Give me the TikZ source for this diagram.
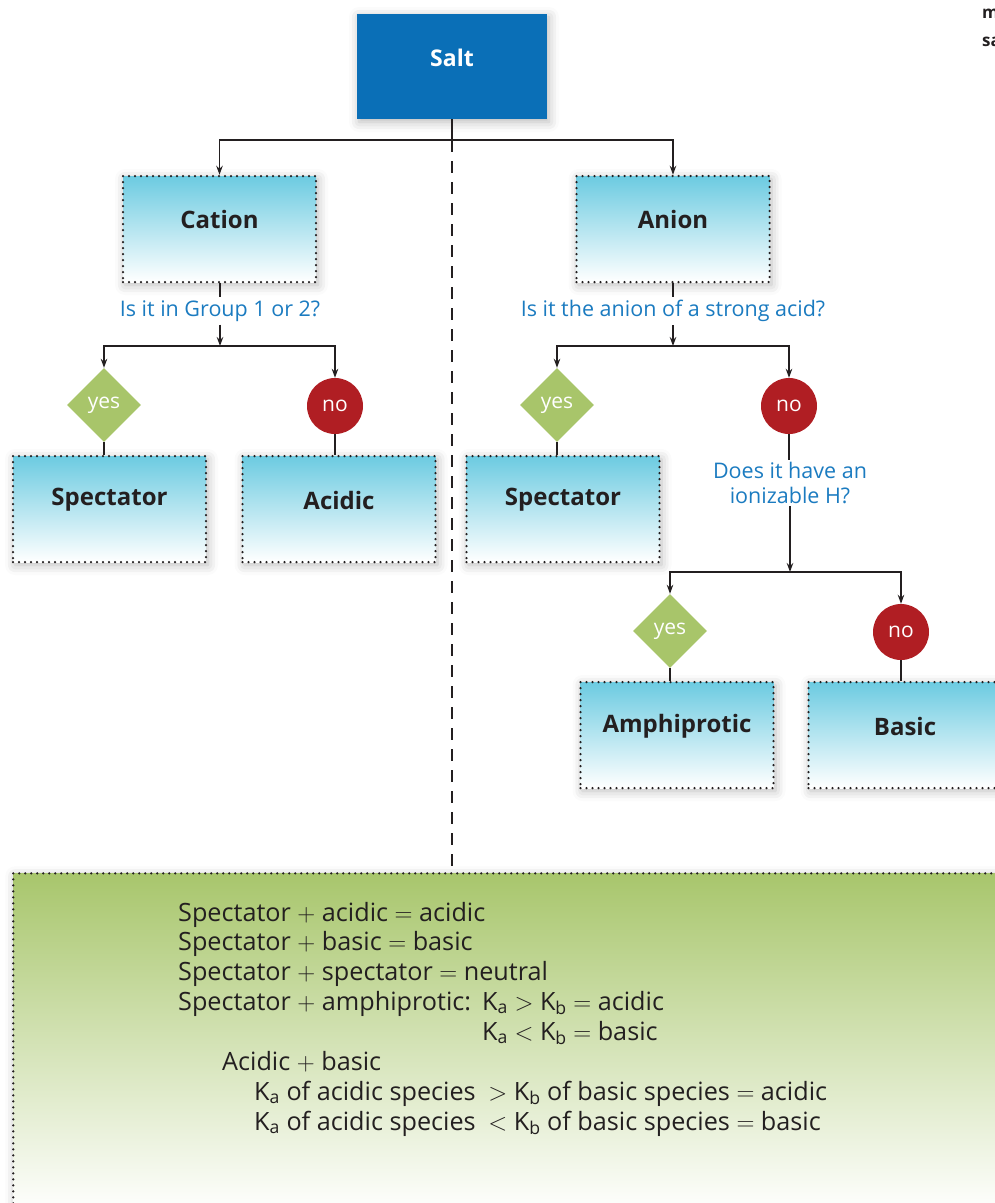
\documentclass[tikz,border=0pt]{standalone}
\usepackage{fontspec}
\setmainfont{Open Sans}
\usetikzlibrary{shapes.geometric,arrows.meta,shadows.blur}
\definecolor{saltblue}{HTML}{0A6FB7}
\definecolor{cyantop}{HTML}{6CCBE1}
\definecolor{greentop}{HTML}{A8C66C}
\definecolor{yesgreen}{HTML}{A8C56A}
\definecolor{nored}{HTML}{B01E23}
\definecolor{qblue}{HTML}{1B7BC0}
\definecolor{ink}{HTML}{231F20}
\tikzset{
  arr/.style={-{Stealth[length=9pt,width=6.5pt]}, line width=1.3pt, draw=ink},
  ln/.style={line width=1.3pt, draw=ink},
  soft/.style={blur shadow={shadow xshift=2pt, shadow yshift=-3pt, shadow blur radius=10pt, shadow opacity=28}},
  box/.style={draw=ink, line width=2.5pt, dash pattern=on 0pt off 6pt, line cap=round,
    top color=cyantop, bottom color=white, minimum width=193pt, minimum height=106pt, inner sep=0pt, soft},
  boxtext/.style={font=\fontsize{24}{28}\selectfont\bfseries, text=ink},
  question/.style={font=\fontsize{21.5}{25}\selectfont, text=qblue, align=center, inner sep=3pt},
  yesnode/.style={diamond, fill=yesgreen, minimum width=74pt, minimum height=74pt, inner sep=0pt,
    text=white, font=\fontsize{21}{22}\selectfont},
  nonode/.style={circle, fill=nored, minimum size=56pt, inner sep=0pt,
    text=white, font=\fontsize{21}{22}\selectfont},
  body/.style={anchor=base west, inner sep=0pt, font=\fontsize{25.2}{28}\selectfont, text=ink},
}
\newcommand{\pl}{\ensuremath{+}}
\newcommand{\eq}{\ensuremath{=}}
\newcommand{\gtr}{\ensuremath{>}}
\newcommand{\lsr}{\ensuremath{<}}
\begin{document}
\begin{tikzpicture}[x=1pt,y=-1pt]
\useasboundingbox (0,0) rectangle (995,1203);
% green summary panel
\node[draw=ink, line width=2.5pt, dash pattern=on 0pt off 6pt, line cap=round,
  top color=greentop, bottom color=white, soft, minimum width=1000pt, minimum height=340pt,
  anchor=north west, inner sep=0pt] (panel) at (12,872) {};
% Salt
\node[fill=saltblue, minimum width=190pt, minimum height=105pt, soft, inner sep=0pt] (salt) at (452,66.5) {};
\node[font=\fontsize{23}{27}\selectfont\bfseries, text=white] (saltT) at (452,58) {Salt};
% top-right clipped text
\node[anchor=west, font=\fontsize{17}{20}\selectfont\bfseries, text=ink, inner sep=0pt] (mT) at (982,14) {m};
\node[anchor=west, font=\fontsize{17}{20}\selectfont\bfseries, text=ink, inner sep=0pt] (saT) at (982,42) {sa};
% Level 1 boxes
\node[box] (cation) at (219.5,229) {};
\node[boxtext] (cationT) at (219.5,219) {Cation};
\node[box] (anion) at (673,229) {};
\node[boxtext] (anionT) at (673,219) {Anion};
% dashed divider
\coordinate (dtop) at (452,140);
\coordinate (dbot) at (452,872);
\draw[ln, dash pattern=on 12pt off 9pt] (dtop) -- (dbot);
\draw[arr] (salt.south) -- (dtop) -| (cation.north);
\draw[arr] (dtop) -| (anion.north);
% Questions
\node[question] (q1) at (220,311) {Is it in Group 1 or 2?};
\node[question] (q2) at (673,311) {Is it the anion of a strong acid?};
\coordinate (j1) at (220,346);
\coordinate (j2) at (673,346);
\draw[ln] (cation.south -| q1.north) -- (q1.north);
\draw[arr] (q1.south) -- (j1);
\draw[ln] (anion.south -| q2.north) -- (q2.north);
\draw[arr] (q2.south) -- (j2);
% yes/no level 1
\node[yesnode] (yes1) at (104,405) {yes};
\node[nonode] (no1) at (335,406) {no};
\node[yesnode] (yes2) at (557,405) {yes};
\node[nonode] (no2) at (789,406) {no};
\draw[arr] (j1) -| (yes1.north);
\draw[arr] (j1) -| (no1.north);
\draw[arr] (j2) -| (yes2.north);
\draw[arr] (j2) -| (no2.north);
% result boxes
\node[box] (spec1) at (109.5,509) {};
\node[boxtext] (spec1T) at (109.5,500) {Spectator};
\node[box] (acid) at (339,509) {};
\node[boxtext] (acidT) at (339,500) {Acidic};
\node[box] (spec2) at (563,509) {};
\node[boxtext] (spec2T) at (563,500) {Spectator};
\draw[ln] (yes1.south) -- (yes1.south |- spec1.north);
\draw[ln] (no1.south) -- (no1.south |- acid.north);
\draw[ln] (yes2.south) -- (yes2.south |- spec2.north);
% second question
\node[question, inner sep=2pt] (q3) at (790,483) {Does it have an\\ionizable H?};
\coordinate (j3) at (790,572);
\draw[ln] (no2.south) -- (no2.south |- q3.north);
\draw[arr] (q3.south) -- (j3);
\node[yesnode] (yes3) at (670,631) {yes};
\node[nonode] (no3) at (901,632) {no};
\draw[arr] (j3) -| (yes3.north);
\draw[arr] (j3) -| (no3.north);
\node[box] (amph) at (677,735) {};
\node[boxtext] (amphT) at (677,726) {Amphiprotic};
\node[box] (basic) at (905,735) {};
\node[boxtext] (basicT) at (905,726) {Basic};
\draw[ln] (yes3.south) -- (yes3.south |- amph.north);
\draw[ln] (no3.south) -- (no3.south |- basic.north);
% summary text
\node[body] (t1) at (178,921) {Spectator \pl{} acidic \eq{} acidic};
\node[body] (t2) at (178,950) {Spectator \pl{} basic \eq{} basic};
\node[body] (t3) at (178,980) {Spectator \pl{} spectator \eq{} neutral};
\node[body] (t4) at (178,1010) {Spectator \pl{} amphiprotic:};
\node[body] (t4b) at (482,1010) {K\textsubscript{a} \gtr{} K\textsubscript{b} \eq{} acidic};
\node[body] (t5) at (482,1040) {K\textsubscript{a} \lsr{} K\textsubscript{b} \eq{} basic};
\node[body] (t6) at (222,1070) {Acidic \pl{} basic};
\node[body] (t7) at (254,1100) {K\textsubscript{a} of acidic species\enspace\gtr{} K\textsubscript{b} of basic species \eq{} acidic};
\node[body] (t8) at (254,1130) {K\textsubscript{a} of acidic species\enspace\lsr{} K\textsubscript{b} of basic species \eq{} basic};
\end{tikzpicture}
\end{document}
